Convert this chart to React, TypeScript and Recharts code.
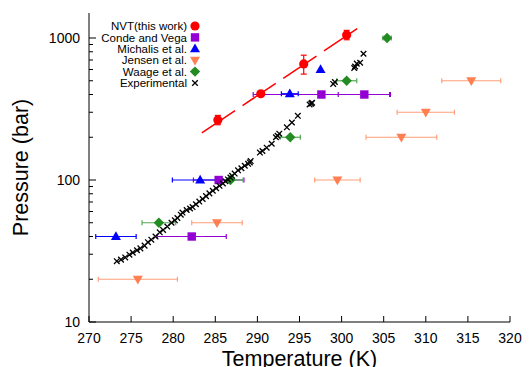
import React from 'react';
import { ScatterChart, Scatter, XAxis, YAxis, ErrorBar, Legend } from 'recharts';

// ---- data ----
const nvtT = [285.3, 290.4, 295.5, 300.6];
const nvtP = [265, 405, 657, 1052];
const nvtErr = [20, 8, 100, 80];

const fitT = [283.4, 302.5];
const fitP = [215, 1233];

const condeT = [282.2, 285.4, 297.6, 302.7];
const condeP = [40, 100, 400, 400];
const condeErr = [4.1, 3.0, 8.1, 3.1];

const michalisT = [273.2, 283.2, 293.85, 297.5];
const michalisP = [40, 100, 405, 600];
const michalisErr = [2.4, 3.3, 1.0, 0];

const jensenT = [275.8, 285.2, 299.5, 307.1, 310.0, 315.4];
const jensenP = [20, 50, 100, 200, 300, 500];
const jensenErr = [4.7, 3.0, 2.7, 4.2, 3.4, 3.5];

const waageT = [278.3, 286.8, 293.9, 300.6, 305.4];
const waageP = [50, 100, 200, 500, 1000];
const waageErr = [2.0, 1.5, 1.2, 1.2, 0.5];

const expT = [
  273.3, 273.8, 274.3, 274.8, 275.2, 275.7, 276.1, 276.6, 277.0, 277.4,
  277.9, 278.4, 278.8, 279.3, 279.8, 280.2, 280.5, 280.9, 281.1, 281.6,
  282.0, 282.3, 282.7, 283.1, 283.5, 283.9, 284.3, 284.7, 285.1, 285.5,
  285.9, 286.2, 286.5, 286.8, 287.0, 287.3, 287.7, 288.1, 288.5, 288.9,
  289.1, 289.2, 290.3, 290.6, 291.1, 291.7, 292.2, 292.4, 292.6, 293.5,
  294.1, 294.8, 296.2, 296.4, 296.5, 299.0, 299.2, 301.5, 301.6, 301.8,
  302.2, 302.6,
];
const expP = [
  26.8, 27.5, 28.5, 29.8, 30.8, 32, 33, 34.5, 36.5, 38,
  40, 42.8, 44.5, 47, 50, 52, 54, 57, 59, 61.5,
  63, 64.5, 67.5, 70.5, 73.5, 77, 80.5, 84, 87.5, 91,
  94.5, 98, 101, 104, 107, 111, 117, 121, 126, 130,
  133, 136, 156, 160, 169, 180, 200, 205, 212, 235,
  254, 283, 340, 345, 350, 475, 490, 615, 630, 660,
  670, 775,
];

const xTicks = [270, 275, 280, 285, 290, 295, 300, 305, 310, 315, 320];
const yMajor = [10, 100, 1000];
const yTicks = [10, 20, 30, 40, 50, 60, 70, 80, 90, 100, 200, 300, 400, 500, 600, 700, 800, 900, 1000];

const legendLabels = ['NVT(this work)', 'Conde and Vega', 'Michalis et al.', 'Jensen et al.', 'Waage et al.', 'Experimental'];

// ---- helpers ----
const zip = (t: number[], p: number[], e?: number[]) => t.map((x, i) => ({ x, y: p[i], e: e ? e[i] : 0 }));
const nvtData = zip(nvtT, nvtP, nvtErr);
const fitData = zip(fitT, fitP);
const condeData = zip(condeT, condeP, condeErr);
const michalisData = zip(michalisT, michalisP, michalisErr);
const jensenData = zip(jensenT, jensenP, jensenErr);
const waageData = zip(waageT, waageP, waageErr);
const expData = zip(expT, expP);

const RED = '#ff0000';
const PURPLE = '#9400d3';
const BLUE = '#0000ff';
const CORAL = '#ff7f50';
const CORAL_BAR = '#ff9f7a';
const GREEN = '#228b22';
const GREEN_BAR = '#55a855';
const FONT = '"Liberation Sans", Arial, Helvetica, sans-serif';

const CircleM = (p: any) => <circle cx={p.cx} cy={p.cy} r={4.6} fill={RED} />;
const SquareM = (p: any) => <rect x={p.cx - 4.2} y={p.cy - 4.2} width={8.4} height={8.4} fill={PURPLE} />;
const TriUpM = (p: any) => (
  <path d={`M${p.cx},${p.cy - 5.2}L${p.cx + 5},${p.cy + 3.4}L${p.cx - 5},${p.cy + 3.4}Z`} fill={BLUE} />
);
const TriDownM = (p: any) => (
  <path d={`M${p.cx},${p.cy + 5.2}L${p.cx + 5},${p.cy - 3.4}L${p.cx - 5},${p.cy - 3.4}Z`} fill={CORAL} />
);
const DiamondM = (p: any) => (
  <path d={`M${p.cx},${p.cy - 5.2}L${p.cx + 5.2},${p.cy}L${p.cx},${p.cy + 5.2}L${p.cx - 5.2},${p.cy}Z`} fill={GREEN} />
);
const CrossM = (p: any) => (
  <path
    d={`M${p.cx - 2.8},${p.cy - 2.8}L${p.cx + 2.8},${p.cy + 2.8}M${p.cx - 2.8},${p.cy + 2.8}L${p.cx + 2.8},${p.cy - 2.8}`}
    stroke="#000"
    strokeWidth={1.3}
  />
);
const NoneM = () => <g />;

const BottomTick = (p: any) => (
  <g>
    <line x1={p.x} x2={p.x} y1={p.y} y2={p.y - 6} stroke="#000" />
    <text x={p.x} y={p.y + 21} textAnchor="middle" fontSize={14} fill="#000" fontFamily={FONT}>
      {p.payload.value}
    </text>
  </g>
);
const TopTick = (p: any) => <line x1={p.x} x2={p.x} y1={p.y} y2={p.y + 6} stroke="#000" />;
const LeftTick = (p: any) => {
  const major = yMajor.includes(p.payload.value);
  return (
    <g>
      <line x1={p.x} x2={p.x + (major ? 7 : 4)} y1={p.y} y2={p.y} stroke="#000" />
      {major && (
        <text x={p.x - 9} y={p.y + 5} textAnchor="end" fontSize={14} fill="#000" fontFamily={FONT}>
          {p.payload.value}
        </text>
      )}
    </g>
  );
};
const RightTick = (p: any) => {
  const major = yMajor.includes(p.payload.value);
  return <line x1={p.x} x2={p.x - (major ? 7 : 4)} y1={p.y} y2={p.y} stroke="#000" />;
};

const legendMarks = [CircleM, SquareM, TriUpM, TriDownM, DiamondM, CrossM];

const renderLegend = () => (
  <svg width={125} height={75} style={{ display: 'block', overflow: 'visible' }}>
    {legendLabels.map((lab, i) => {
      const cy = 9 + i * 11.4;
      const M = legendMarks[i];
      return (
        <g key={lab}>
          <text x={102} y={cy + 4.2} textAnchor="end" fontSize={11.5} fill="#000" fontFamily={FONT}>
            {lab}
          </text>
          <M cx={110} cy={cy} />
        </g>
      );
    })}
  </svg>
);

export default function App() {
  return (
    <div style={{ position: 'absolute', left: 0, top: 0 }}>
      <ScatterChart
        width={531}
        height={367}
        margin={{ top: 13, right: 21, bottom: 0, left: 0 }}
        style={{ fontFamily: FONT }}
      >
        <XAxis
          xAxisId="b"
          dataKey="x"
          type="number"
          domain={[270, 320]}
          ticks={xTicks}
          interval={0}
          allowDataOverflow
          height={45}
          tickSize={0}
          tickMargin={0}
          tick={BottomTick}
          axisLine={{ stroke: '#000' }}
          tickLine={false}
          label={{
            content: (props: any) => {
              const vb = props.viewBox;
              return (
                <text
                  x={vb.x + vb.width / 2}
                  y={vb.y + 44}
                  textAnchor="middle"
                  fontSize={21.5}
                  fill="#000"
                  fontFamily={FONT}
                >
                  Temperature (K)
                </text>
              );
            },
          }}
        />
        <XAxis
          xAxisId="t"
          orientation="top"
          dataKey="x"
          type="number"
          domain={[270, 320]}
          ticks={xTicks}
          interval={0}
          allowDataOverflow
          height={0}
          tickSize={0}
          tickMargin={0}
          tick={TopTick}
          axisLine={{ stroke: '#000' }}
          tickLine={false}
        />
        <YAxis
          yAxisId="l"
          dataKey="y"
          type="number"
          scale="log"
          domain={[10, 1500]}
          ticks={yTicks}
          interval={0}
          allowDataOverflow
          width={89}
          tickSize={0}
          tickMargin={0}
          tick={LeftTick}
          axisLine={{ stroke: '#000' }}
          tickLine={false}
          label={{
            content: (props: any) => {
              const vb = props.viewBox;
              const cx = 28;
              const cy = vb.y + vb.height / 2;
              return (
                <text
                  x={cx}
                  y={cy}
                  transform={`rotate(-90 ${cx} ${cy})`}
                  textAnchor="middle"
                  fontSize={21.5}
                  fill="#000"
                  fontFamily={FONT}
                >
                  Pressure (bar)
                </text>
              );
            },
          }}
        />
        <YAxis
          yAxisId="r"
          orientation="right"
          dataKey="y"
          type="number"
          scale="log"
          domain={[10, 1500]}
          ticks={yTicks}
          interval={0}
          allowDataOverflow
          width={0}
          tickSize={0}
          tickMargin={0}
          tick={RightTick}
          axisLine={{ stroke: '#000' }}
          tickLine={false}
        />
        <Legend
          layout="vertical"
          align="center"
          verticalAlign="middle"
          content={renderLegend}
          wrapperStyle={{ position: 'absolute', left: 85, top: 17, width: 125, height: 75 }}
        />
        <Scatter
          name="fit"
          xAxisId="b"
          yAxisId="l"
          data={fitData}
          shape={NoneM}
          line={{ stroke: RED, strokeWidth: 1.5, strokeDasharray: '40 9' }}
          isAnimationActive={false}
          legendType="none"
        />
        <Scatter name="NVT(this work)" xAxisId="b" yAxisId="l" data={nvtData} shape={CircleM} isAnimationActive={false}>
          <ErrorBar dataKey="e" direction="y" width={3} stroke={RED} strokeWidth={1.2} isAnimationActive={false} />
        </Scatter>
        <Scatter name="Conde and Vega" xAxisId="b" yAxisId="l" data={condeData} shape={SquareM} isAnimationActive={false}>
          <ErrorBar dataKey="e" direction="x" width={2.5} stroke={PURPLE} strokeWidth={1.2} isAnimationActive={false} />
        </Scatter>
        <Scatter name="Michalis et al." xAxisId="b" yAxisId="l" data={michalisData} shape={TriUpM} isAnimationActive={false}>
          <ErrorBar dataKey="e" direction="x" width={2.5} stroke={BLUE} strokeWidth={1.2} isAnimationActive={false} />
        </Scatter>
        <Scatter name="Jensen et al." xAxisId="b" yAxisId="l" data={jensenData} shape={TriDownM} isAnimationActive={false}>
          <ErrorBar dataKey="e" direction="x" width={2.5} stroke={CORAL_BAR} strokeWidth={1.2} isAnimationActive={false} />
        </Scatter>
        <Scatter name="Waage et al." xAxisId="b" yAxisId="l" data={waageData} shape={DiamondM} isAnimationActive={false}>
          <ErrorBar dataKey="e" direction="x" width={2.5} stroke={GREEN_BAR} strokeWidth={1.2} isAnimationActive={false} />
        </Scatter>
        <Scatter name="Experimental" xAxisId="b" yAxisId="l" data={expData} shape={CrossM} isAnimationActive={false} />
      </ScatterChart>
    </div>
  );
}
